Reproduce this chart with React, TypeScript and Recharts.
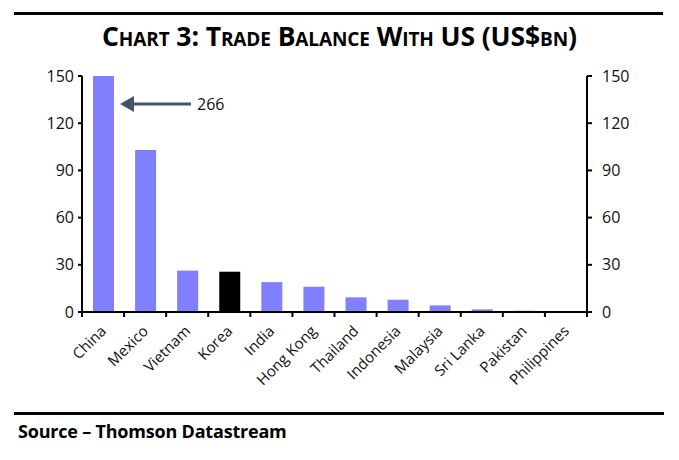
import React from "react";
import { ComposedChart, Bar, Line, XAxis, YAxis, Cell } from "recharts";

const categories = ["China", "Mexico", "Vietnam", "Korea", "India", "Hong Kong", "Thailand", "Indonesia", "Malaysia", "Sri Lanka", "Pakistan", "Philippines"];
const balances = [150, 103, 26.3, 25.6, 19, 16.1, 9.3, 7.8, 4.2, 1.7, 0.8, 0.1];
const yTicks = [0, 30, 60, 90, 120, 150];
const highlight = "Korea";
const chinaActual = 266;

const data = categories.map((name, i) => ({ name, value: balances[i] }));

const PLOT_LEFT = 82;
const PLOT_RIGHT = 587;
const BAND = (PLOT_RIGHT - PLOT_LEFT) / categories.length;
const FONT = "'Open Sans', 'DejaVu Sans', sans-serif";

const XTick = (props: any) => {
  const { x, y, payload, index } = props;
  const last = index === categories.length - 1;
  return (
    <g>
      <line x1={x - BAND / 2} x2={x - BAND / 2} y1={y} y2={y + 5} stroke="#000" strokeWidth={2} />
      {last && <line x1={x + BAND / 2} x2={x + BAND / 2} y1={y} y2={y + 5} stroke="#000" strokeWidth={2} />}
      <text
        x={x + 4}
        y={y + 20}
        transform={`rotate(-45, ${x + 4}, ${y + 20})`}
        textAnchor="end"
        fontSize={15}
        fontFamily={FONT}
        fill="#111"
      >
        {payload.value}
      </text>
    </g>
  );
};

const BarShape = (props: any) => {
  const { x, y, width, height, fill, payload } = props;
  return (
    <g>
      <rect x={x} y={y} width={width} height={height} fill={fill} />
      {payload.name === "China" && (
        <g>
          <line x1={x + width + 12} x2={x + width + 77} y1={y + 28} y2={y + 28} stroke="#44546a" strokeWidth={3} />
          <polygon
            points={`${x + width + 6},${y + 28} ${x + width + 20},${y + 20} ${x + width + 20},${y + 36}`}
            fill="#44546a"
          />
          <text x={x + width + 83} y={y + 34} fontSize={16} fontFamily={FONT} fill="#111">
            {chinaActual}
          </text>
        </g>
      )}
    </g>
  );
};

export default function App() {
  return (
    <div style={{ position: "absolute", left: 0, top: 0, width: 679, height: 460, background: "#fff" }}>
      <div style={{ position: "absolute", left: 14, top: 12, width: 649, height: 3, background: "#000" }} />
      <div
        style={{
          position: "absolute",
          left: 0,
          width: 679,
          top: 20,
          textAlign: "center",
          fontFamily: FONT,
          fontWeight: 700,
          fontVariant: "small-caps",
          fontSize: 26.5,
          lineHeight: "32px",
          color: "#000",
          letterSpacing: -0.1,
        }}
      >
        Chart 3: Trade Balance With US (US$bn)
      </div>
      <div style={{ position: "absolute", left: 0, top: 0 }}>
        <ComposedChart
          width={679}
          height={460}
          data={data}
          margin={{ top: 76, right: 42, bottom: 68, left: 0 }}
        >
          <XAxis
            dataKey="name"
            interval={0}
            tickSize={0}
            tickMargin={0}
            tickLine={false}
            axisLine={{ stroke: "#000", strokeWidth: 2 }}
            height={80}
            tick={<XTick />}
          />
          <YAxis
            yAxisId="left"
            domain={[0, 150]}
            ticks={yTicks}
            width={82}
            tickSize={4}
            tickMargin={4}
            axisLine={{ stroke: "#000", strokeWidth: 2 }}
            tickLine={{ stroke: "#000", strokeWidth: 2 }}
            tick={{ fontSize: 16, fontFamily: FONT, fill: "#111" }}
          />
          <YAxis
            yAxisId="right"
            orientation="right"
            domain={[0, 150]}
            ticks={yTicks}
            width={50}
            tickSize={5}
            tickMargin={10}
            axisLine={{ stroke: "#000", strokeWidth: 2 }}
            tickLine={{ stroke: "#000", strokeWidth: 2 }}
            tick={{ fontSize: 16, fontFamily: FONT, fill: "#111", textAnchor: "start" }}
          />
          <Bar dataKey="value" yAxisId="left" barSize={21} isAnimationActive={false} shape={<BarShape />}>
            {data.map((d) => (
              <Cell key={d.name} fill={d.name === highlight ? "#000000" : "#8080ff"} />
            ))}
          </Bar>
          <Line
            dataKey="value"
            yAxisId="right"
            stroke="none"
            dot={false}
            activeDot={false}
            legendType="none"
            isAnimationActive={false}
          />
        </ComposedChart>
      </div>
      <div style={{ position: "absolute", left: 14, top: 412, width: 650, height: 3, background: "#000" }} />
      <div
        style={{
          position: "absolute",
          left: 18,
          top: 419,
          fontFamily: FONT,
          fontWeight: 700,
          fontSize: 18,
          lineHeight: "24px",
          color: "#000",
          letterSpacing: -0.2,
        }}
      >
        Source – Thomson Datastream
      </div>
    </div>
  );
}
